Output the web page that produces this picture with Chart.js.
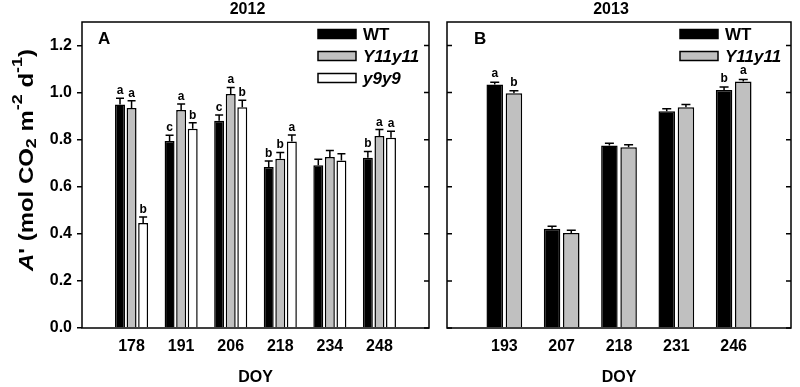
<!DOCTYPE html>
<html>
<head>
<meta charset="utf-8">
<script src="https://cdn.jsdelivr.net/npm/chart.js@4.4.0/dist/chart.umd.min.js"></script>
<style>
  body { margin: 0; background: #fff; }
  #wrap { position: relative; width: 800px; height: 387px; }
  canvas { position: absolute; top: 0; }
</style>
</head>
<body>
<div id="wrap">
  <canvas id="chart2012" width="438" height="387" style="left:0px"></canvas>
  <canvas id="chart2013" width="362" height="387" style="left:438px"></canvas>
</div>
<script>
  // 2012 (panel A)
  const doy2012 = ["178", "191", "206", "218", "234", "248"];
  const wt2012 = [0.949, 0.794, 0.880, 0.684, 0.691, 0.723];
  const y11_2012 = [0.935, 0.926, 0.994, 0.719, 0.727, 0.816];
  const y9_2012 = [0.446, 0.846, 0.938, 0.792, 0.712, 0.808];
  const wtErr2012 = [0.027, 0.025, 0.025, 0.025, 0.026, 0.027];
  const y11Err2012 = [0.030, 0.026, 0.028, 0.027, 0.027, 0.027];
  const y9Err2012 = [0.026, 0.026, 0.030, 0.028, 0.028, 0.028];
  const wtLetters2012 = ["a", "c", "c", "b", "", "b"];
  const y11Letters2012 = ["a", "a", "a", "b", "", "a"];
  const y9Letters2012 = ["b", "b", "b", "a", "", "a"];

  // 2013 (panel B)
  const doy2013 = ["193", "207", "218", "231", "246"];
  const wt2013 = [1.034, 0.422, 0.775, 0.921, 1.011];
  const y11_2013 = [0.997, 0.404, 0.768, 0.938, 1.047];
  const wtErr2013 = [0.010, 0.010, 0.010, 0.010, 0.013];
  const y11Err2013 = [0.011, 0.011, 0.010, 0.012, 0.009];
  const wtLetters2013 = ["a", "", "", "", "b"];
  const y11Letters2013 = ["b", "", "", "", "a"];

  const FONT = "'Liberation Sans', Arial, sans-serif";
  Chart.defaults.font.family = FONT;
  Chart.defaults.color = "#000";

  // empty slot on each side of the categories
  const pad = (arr, fill) => [fill, ...arr, fill];

  function makeSet(label, values, errs, letters, color, italic) {
    return {
      label: label,
      data: pad(values, null),
      errors: pad(errs, null),
      letters: pad(letters, ""),
      italic: italic,
      backgroundColor: color,
      borderColor: "#000",
      borderWidth: 1.5,
      borderSkipped: "start",
    };
  }

  // frame, inward ticks, error bars, letters, legend, titles
  const decor = {
    id: "decor",
    afterDatasetsDraw(chart, args, opts) {
      const ctx = chart.ctx;
      const yScale = chart.scales.y;
      ctx.save();
      ctx.strokeStyle = "#000";
      ctx.fillStyle = "#000";
      ctx.lineWidth = 1.5;
      chart.data.datasets.forEach((ds, di) => {
        const meta = chart.getDatasetMeta(di);
        meta.data.forEach((bar, i) => {
          const v = ds.data[i];
          if (v == null) return;
          const top = yScale.getPixelForValue(v + ds.errors[i]);
          ctx.beginPath();
          ctx.moveTo(bar.x, bar.y);
          ctx.lineTo(bar.x, top);
          ctx.moveTo(bar.x - opts.cap / 2, top);
          ctx.lineTo(bar.x + opts.cap / 2, top);
          ctx.stroke();
          if (ds.letters[i]) {
            ctx.font = "bold 12px " + FONT;
            ctx.textAlign = "center";
            ctx.textBaseline = "alphabetic";
            ctx.fillText(ds.letters[i], bar.x, top - opts.letterGap);
          }
        });
      });
      ctx.restore();
    },
    afterDraw(chart, args, opts) {
      const ctx = chart.ctx;
      const a = chart.chartArea;
      const yScale = chart.scales.y;
      ctx.save();
      ctx.strokeStyle = "#000";
      ctx.fillStyle = "#000";
      ctx.lineWidth = 1.5;
      ctx.strokeRect(a.left, a.top, a.right - a.left, a.bottom - a.top);
      ctx.beginPath();
      yScale.ticks.forEach((t) => {
        const py = yScale.getPixelForValue(t.value);
        ctx.moveTo(a.right, py);
        ctx.lineTo(a.right - 5, py);
        if (opts.innerLeft) {
          ctx.moveTo(a.left, py);
          ctx.lineTo(a.left + 5, py);
        }
      });
      ctx.stroke();

      // year title
      ctx.font = "bold 16px " + FONT;
      ctx.textAlign = "center";
      ctx.textBaseline = "middle";
      ctx.fillText(opts.year, (a.left + a.right) / 2 - 8, 10);

      // panel tag
      ctx.font = "bold 17px " + FONT;
      ctx.textAlign = "left";
      ctx.textBaseline = "alphabetic";
      ctx.fillText(opts.tag, a.left + opts.tagX, a.top + 21.5);

      // legend
      const bx = a.right - 111;
      chart.data.datasets.forEach((ds, di) => {
        const cy = a.top + 12 + di * 22;
        ctx.fillStyle = ds.backgroundColor;
        ctx.fillRect(bx, cy - 4.5, 38, 9);
        ctx.strokeRect(bx, cy - 4.5, 38, 9);
        ctx.fillStyle = "#000";
        ctx.font = (ds.italic ? "italic " : "") + "bold 17px " + FONT;
        ctx.textBaseline = "middle";
        ctx.fillText(ds.label, bx + 45, cy + 1);
      });

      // y axis title with sub/superscripts
      if (opts.yTitle) {
        const parts = [
          { t: "A", f: "italic bold 20px ", dy: 0 },
          { t: "' (mol CO", f: "bold 20px ", dy: 0 },
          { t: "2", f: "bold 15px ", dy: 3 },
          { t: " m", f: "bold 20px ", dy: 0 },
          { t: "-2", f: "bold 15px ", dy: -11 },
          { t: " d", f: "bold 20px ", dy: 0 },
          { t: "-1", f: "bold 15px ", dy: -11 },
          { t: ")", f: "bold 20px ", dy: 0 },
        ];
        let total = 0;
        parts.forEach((p) => {
          ctx.font = p.f + FONT;
          p.w = ctx.measureText(p.t).width;
          total += p.w;
        });
        const sx = 222 / total;
        ctx.translate(33, 160);
        ctx.rotate(-Math.PI / 2);
        ctx.scale(sx, 1);
        ctx.textAlign = "left";
        ctx.textBaseline = "alphabetic";
        let x = -total / 2;
        parts.forEach((p) => {
          ctx.font = p.f + FONT;
          ctx.fillText(p.t, x, p.dy);
          x += p.w;
        });
      }
      ctx.restore();
    },
  };

  function makeChart(id, labels, datasets, o) {
    return new Chart(document.getElementById(id), {
      type: "bar",
      data: { labels: pad(labels, ""), datasets: datasets },
      plugins: [decor],
      options: {
        responsive: false,
        animation: false,
        layout: { padding: { top: 22, right: o.padRight, left: 0, bottom: 0 } },
        datasets: {
          bar: { categoryPercentage: o.catPct, barPercentage: 0.86 },
        },
        plugins: {
          legend: { display: false },
          tooltip: { enabled: false },
          decor: {
            year: o.year,
            tag: o.tag,
            tagX: o.tagX,
            cap: o.cap,
            letterGap: o.letterGap,
            innerLeft: o.innerLeft,
            yTitle: o.yTitle,
          },
        },
        scales: {
          x: {
            offset: false,
            grid: { display: false, drawTicks: false },
            border: { display: false },
            ticks: {
              autoSkip: false,
              maxRotation: 0,
              padding: 9,
              font: { size: 16, weight: "bold" },
            },
            title: {
              display: true,
              text: "DOY",
              font: { size: 16, weight: "bold" },
              padding: { top: 0, bottom: 0 },
            },
            afterFit: (s) => { s.height = 59; },
          },
          y: {
            min: 0,
            max: 1.3,
            border: { display: false },
            grid: {
              drawOnChartArea: false,
              drawTicks: !o.innerLeft,
              tickLength: 5,
              color: "#000",
              lineWidth: 1.5,
            },
            ticks: {
              display: !o.innerLeft,
              stepSize: 0.2,
              padding: 5,
              font: { size: 16, weight: "bold" },
              callback: (v) => v.toFixed(1),
            },
            afterBuildTicks: (s) => {
              s.ticks = s.ticks.filter((t) => t.value <= 1.2001);
            },
            afterFit: (s) => { s.width = o.axisWidth; },
          },
        },
      },
    });
  }

  makeChart("chart2012", doy2012, [
    makeSet("WT", wt2012, wtErr2012, wtLetters2012, "#000000", false),
    makeSet("Y11y11", y11_2012, y11Err2012, y11Letters2012, "#c0c0c0", true),
    makeSet("y9y9", y9_2012, y9Err2012, y9Letters2012, "#ffffff", true),
  ], {
    year: "2012", tag: "A", tagX: 16, cap: 8, letterGap: 4,
    innerLeft: false, yTitle: true, axisWidth: 82, padRight: 6, catPct: 0.7,
  });

  makeChart("chart2013", doy2013, [
    makeSet("WT", wt2013, wtErr2013, wtLetters2013, "#000000", false),
    makeSet("Y11y11", y11_2013, y11Err2013, y11Letters2013, "#c0c0c0", true),
  ], {
    year: "2013", tag: "B", tagX: 27, cap: 9, letterGap: 5,
    innerLeft: true, yTitle: false, axisWidth: 6, padRight: 7, catPct: 0.67,
  });
</script>
</body>
</html>
